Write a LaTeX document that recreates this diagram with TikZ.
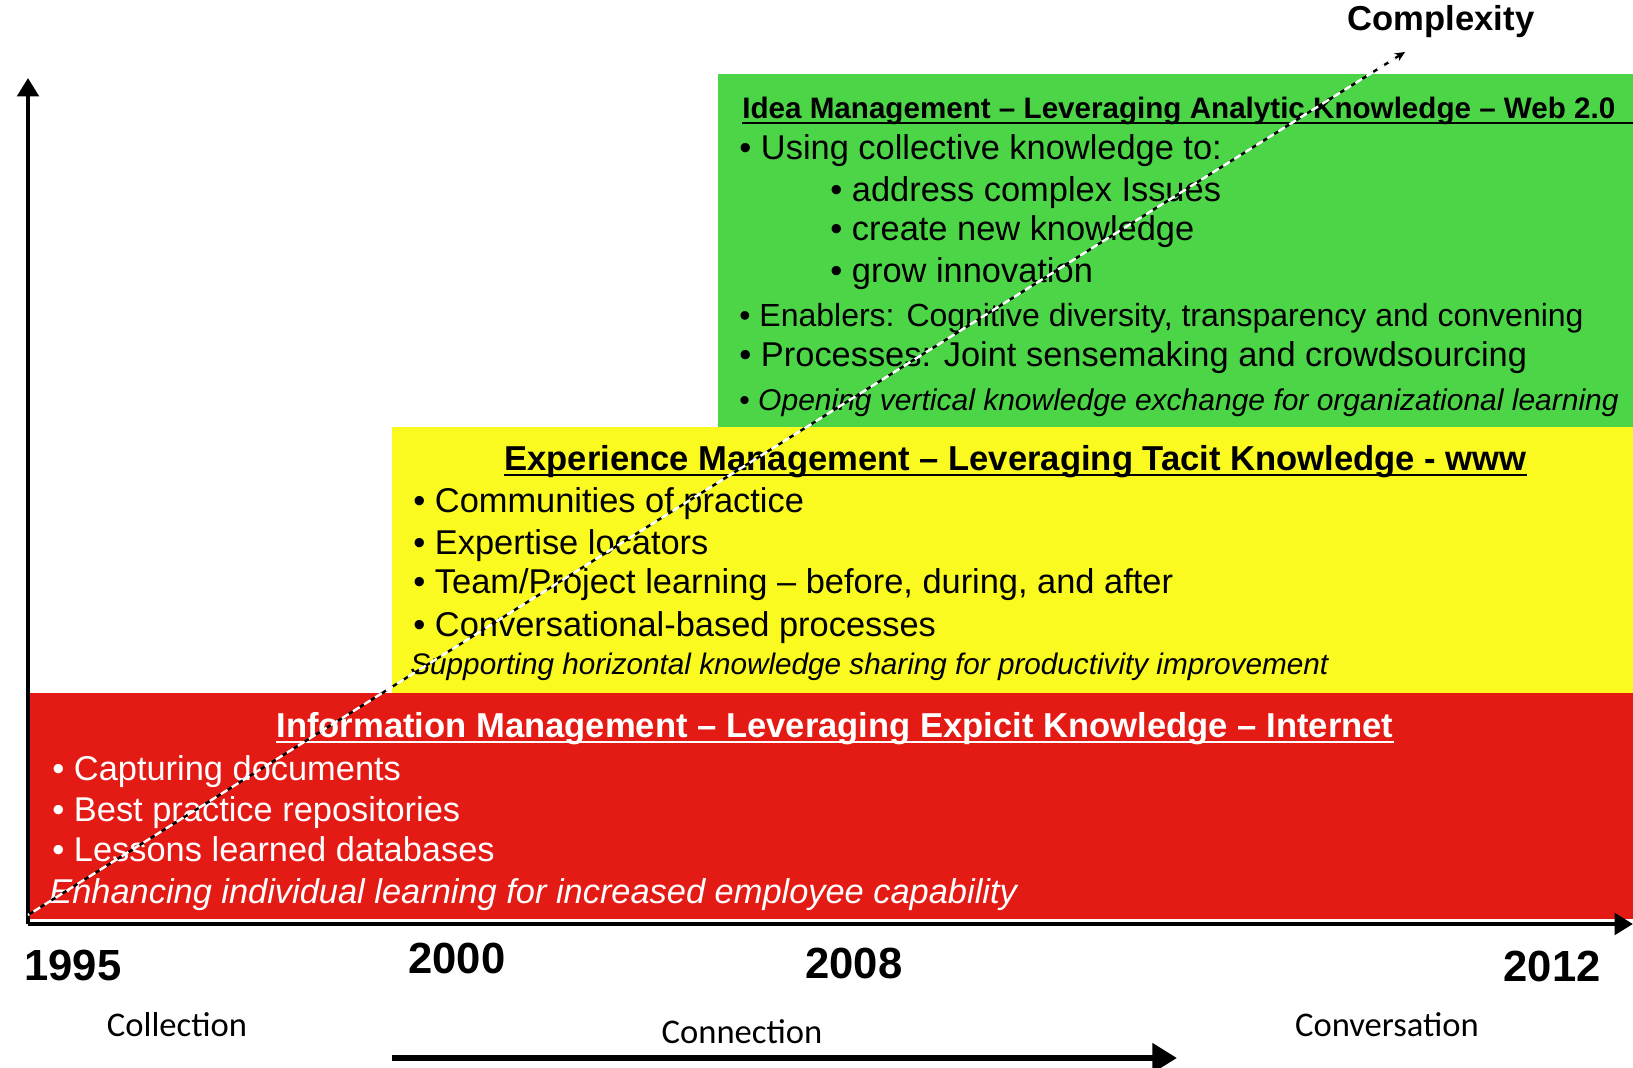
\documentclass[tikz,border=0pt]{standalone}
\usepackage{fontspec}
\setmainfont{Liberation Sans}
\newfontfamily\calfont{Carlito}
\usetikzlibrary{arrows.meta}
\definecolor{ideagreen}{RGB}{77,213,72}
\definecolor{expyellow}{RGB}{250,250,32}
\definecolor{infored}{RGB}{228,26,20}
\tikzset{
 txt/.style={anchor=mid west, inner sep=0, font=\fontsize{17.2}{20}\selectfont},
 head/.style={anchor=mid west, inner sep=0, font=\bfseries\fontsize{17.3}{20}\selectfont},
 year/.style={inner sep=0, font=\bfseries\fontsize{21.8}{24}\selectfont},
 phase/.style={inner sep=0, font=\calfont\fontsize{17.3}{20}\selectfont},
 uline/.style={line width=1pt},
}
\begin{document}
\begin{tikzpicture}[x=0.5pt, y=-0.5pt, >=Triangle]
 \useasboundingbox (0,0) rectangle (1633,1068);
 \fill[infored] (28,693) rectangle (1633,919);
 \fill[expyellow] (392,427) rectangle (1633,693);
 \fill[ideagreen] (718,74) rectangle (1633,427);
 \coordinate (o) at (28,924);
 \coordinate (ytop) at (28,78);
 \coordinate (xend) at (1633,924);
 \draw[line width=2.2pt,->] (o) -- (ytop);
 \draw[line width=2.2pt,->] (o) -- (xend);

 \node[head, font=\bfseries\fontsize{14.8}{17}\selectfont] (hidea) at (742,113) {Idea Management – Leveraging Analytic Knowledge – Web 2.0};
 \draw[uline] ([yshift=-2.5pt]hidea.base west) -- ++(891,0);
 \node[txt] (g1) at (739,154) {• Using collective knowledge to:};
 \node[txt] (g2) at (830,196) {• address complex Issues};
 \node[txt] (g3) at (830,235) {• create new knowledge};
 \node[txt] (g4) at (830,277) {• grow innovation};
 \node[txt, font=\fontsize{16}{18}\selectfont] (g5) at (739,321) {• Enablers: Cognitive diversity, transparency and convening};
 \node[txt] (g6) at (739,361) {• Processes: Joint sensemaking and crowdsourcing};
 \node[txt, font=\fontsize{15}{17}\selectfont] (g7) at (739,405) {• \textit{Opening vertical knowledge exchange for organizational learning}};

 \node[head] (hexp) at (504,465) {Experience Management – Leveraging Tacit Knowledge - www};
 \draw[uline] ([yshift=-2.5pt]hexp.base west) -- ([yshift=-2.5pt]hexp.base east);
 \node[txt] (y1) at (413,507) {• Communities of practice};
 \node[txt] (y2) at (413,549) {• Expertise locators};
 \node[txt] (y3) at (413,588) {• Team/Project learning – before, during, and after};
 \node[txt] (y4) at (413,631) {• Conversational-based processes};
 \node[txt, font=\itshape\fontsize{14.85}{17}\selectfont] (y5) at (410,669) {Supporting horizontal knowledge sharing for productivity improvement};

 \node[head, text=white] (hinf) at (276,732) {Information Management – Leveraging Expicit Knowledge – Internet};
 \draw[uline, white] ([yshift=-2.5pt]hinf.base west) -- ([yshift=-2.5pt]hinf.base east);
 \node[txt, text=white] (r1) at (52,775) {• Capturing documents};
 \node[txt, text=white] (r2) at (52,816) {• Best practice repositories};
 \node[txt, text=white] (r3) at (52,856) {• Lessons learned databases};
 \node[txt, text=white, font=\itshape\fontsize{17.2}{20}\selectfont] (r4) at (49,898) {Enhancing individual learning for increased employee capability};

 \node[year] (y1995) at (73,965) {1995};
 \node[year] (y2000) at (457,958) {2000};
 \node[year] (y2008) at (854,963) {2008};
 \node[year] (y2012) at (1552,966) {2012};
 \node[phase] (coll) at (177,1025) {Collection};
 \node[phase] (conn) at (742,1032) {Connection};
 \node[phase] (conv) at (1387,1025) {Conversation};
 \coordinate (cs) at (392,1058);
 \coordinate (ce) at (1177,1058);
 \draw[line width=3.2pt,->] (cs) -- (ce);

 \node[inner sep=0, font=\bfseries\fontsize{17.3}{20}\selectfont] (cplx) at (1441,22) {Complexity};
 \coordinate (dstart) at (28,915);
 \coordinate (dend) at (1405,52);
 \draw[line width=1.2pt, dash pattern=on 4pt off 2.5pt, -{Stealth[length=5pt,width=4.5pt]}] (dstart) -- (dend);
 \draw[line width=1.2pt, white, dash pattern=on 4pt off 2.5pt, dash phase=3.25pt, shorten >=4pt] (dstart) -- (dend);
\end{tikzpicture}
\end{document}
